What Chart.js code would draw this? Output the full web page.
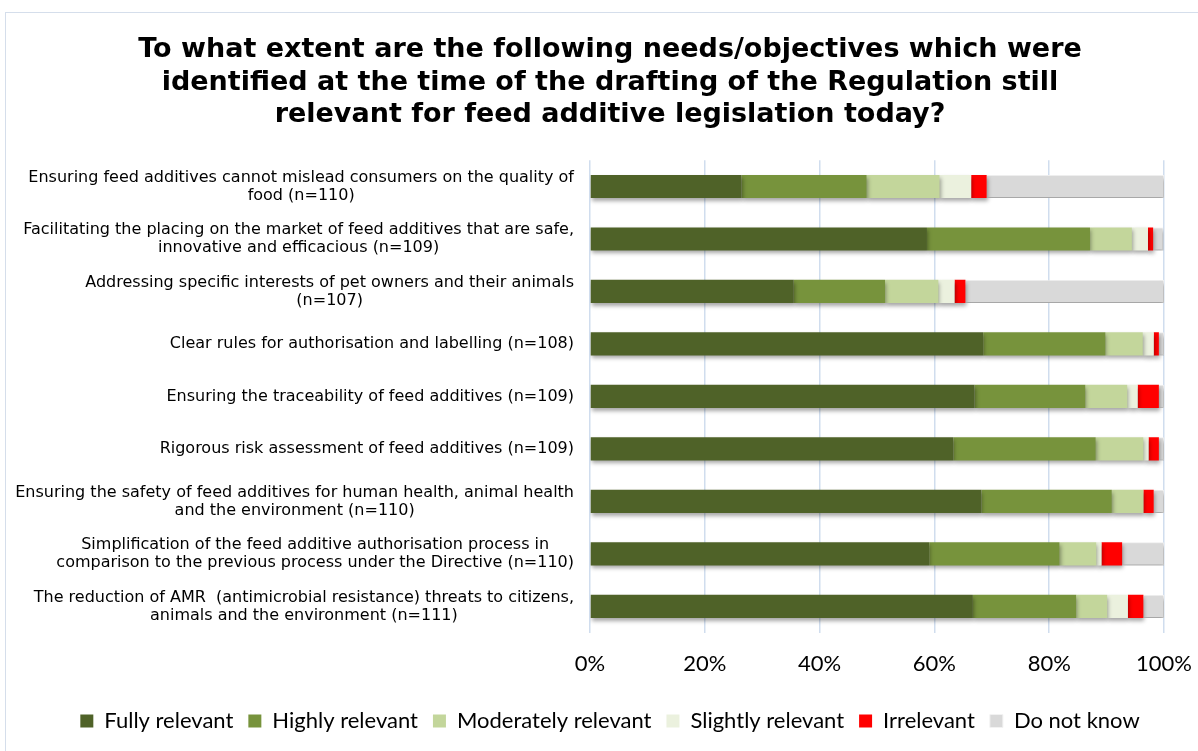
<!DOCTYPE html>
<html>
<head>
<meta charset="utf-8">
<script src="https://cdn.jsdelivr.net/npm/chart.js@4.4.1/dist/chart.umd.min.js"></script>
<style>
  html, body { margin: 0; padding: 0; background: #ffffff; overflow: hidden; }
  #wrap { position: relative; width: 1198px; height: 751px; overflow: hidden; }
  #frame { position: absolute; left: 5px; top: 12px; width: 1300px; height: 900px; border: 1px solid #D5DEEB; box-sizing: border-box; }
  canvas { position: absolute; left: 0; top: 0; }
</style>
</head>
<body>
<div id="wrap">
  <div id="frame"></div>
  <canvas id="c" width="1210" height="751"></canvas>
</div>
<script>
const titleLines = [
  "To what extent are the following needs/objectives which were",
  "identified at the time of the drafting of the Regulation still",
  "relevant for feed additive legislation today?"
];
const categories = [
  ["Ensuring feed additives cannot mislead consumers on the quality of", "food (n=110)"],
  ["Facilitating the placing on the market of feed additives that are safe,", "innovative and efficacious (n=109)"],
  ["Addressing specific interests of pet owners and their animals", "(n=107)"],
  ["Clear rules for authorisation and labelling (n=108)"],
  ["Ensuring the traceability of feed additives (n=109)"],
  ["Rigorous risk assessment of feed additives (n=109)"],
  ["Ensuring the safety of feed additives for human health, animal health", "and the environment (n=110)"],
  ["Simplification of the feed additive authorisation process in", "comparison to the previous process under the Directive (n=110)"],
  ["The reduction of AMR  (antimicrobial resistance) threats to citizens,", "animals and the environment (n=111)"]
];
const seriesNames = ["Fully relevant", "Highly relevant", "Moderately relevant", "Slightly relevant", "Irrelevant", "Do not know"];
const fullyRelevant      = [26.4, 58.7, 35.5, 68.5, 67.0, 63.3, 68.2, 59.1, 66.7];
const highlyRelevant     = [21.8, 28.4, 15.9, 21.3, 19.3, 24.8, 22.7, 22.7, 18.0];
const moderatelyRelevant = [12.7,  7.3,  9.3,  6.5,  7.3,  8.3,  5.5,  6.4,  5.4];
const slightlyRelevant   = [ 5.5,  2.8,  2.8,  1.9,  1.8,  0.9,  0.0,  0.9,  3.6];
const irrelevant         = [ 2.7,  0.9,  1.9,  0.9,  3.7,  1.8,  1.8,  3.6,  2.7];
const doNotKnow          = [30.9,  1.8, 34.6,  0.9,  0.9,  0.9,  1.8,  7.3,  3.6];
const xTicks = [0, 20, 40, 60, 80, 100];

const seriesValues = [fullyRelevant, highlyRelevant, moderatelyRelevant, slightlyRelevant, irrelevant, doNotKnow];
const seriesColors = ["#4F6228", "#77933C", "#C3D69B", "#EBF1DE", "#FF0000", "#D9D9D9"];
const seriesBorders = ["#4F6228", "#77933C", "#C3D69B", "#EBF1DE", "#FF0000", "#F2F2F2"];

const shadowPlugin = {
  id: 'barShadow',
  beforeDatasetsDraw(chart) {
    const ctx = chart.ctx;
    ctx.save();
    ctx.shadowColor = 'rgba(0,0,0,0.35)';
    ctx.shadowBlur = 4;
    ctx.shadowOffsetX = 1;
    ctx.shadowOffsetY = 3;
  },
  afterDatasetsDraw(chart) {
    chart.ctx.restore();
  }
};

const catLabelPlugin = {
  id: 'catLabels',
  afterDraw(chart) {
    const ctx = chart.ctx;
    const yScale = chart.scales.y;
    const rightEdge = chart.chartArea.left - 16;
    const lineH = 18;
    ctx.save();
    ctx.font = '16px "DejaVu Sans"';
    ctx.fillStyle = '#000000';
    ctx.textBaseline = 'middle';
    ctx.textAlign = 'center';
    categories.forEach((lines, i) => {
      const yc = yScale.getPixelForValue(i);
      const widths = lines.map(l => ctx.measureText(l).width);
      const blockW = Math.max(...widths);
      const cx = rightEdge - blockW / 2;
      const y0 = yc - (lines.length - 1) * lineH / 2;
      lines.forEach((l, k) => ctx.fillText(l, cx, y0 + k * lineH));
    });
    ctx.restore();
  }
};

const datasets = seriesNames.map((name, i) => ({
  label: name,
  data: seriesValues[i],
  backgroundColor: seriesColors[i],
  borderColor: seriesBorders[i],
  borderWidth: i === 5 ? 1 : 0,
  categoryPercentage: 1.0,
  barPercentage: 0.44
}));

new Chart(document.getElementById('c'), {
  type: 'bar',
  data: { labels: categories.map(l => l.join(' ')), datasets },
  options: {
    indexAxis: 'y',
    responsive: false,
    animation: false,
    layout: { padding: { left: 20, right: 10, top: 0, bottom: 9 } },
    plugins: {
      title: {
        display: true,
        text: titleLines,
        color: '#000000',
        font: { family: 'DejaVu Sans', size: 27, weight: 'bold', lineHeight: 1.2 },
        padding: { top: 34, bottom: 29 }
      },
      legend: {
        position: 'bottom',
        labels: {
          color: '#000000',
          font: { family: 'Lato', size: 22 },
          boxWidth: 13,
          boxHeight: 13,
          padding: 15
        }
      },
      tooltip: { enabled: false }
    },
    scales: {
      x: {
        stacked: true,
        min: 0,
        max: 100,
        afterBuildTicks(scale) { scale.ticks = xTicks.map(v => ({ value: v })); },
        ticks: {
          callback: v => v + '%',
          color: '#000000',
          font: { family: 'Lato', size: 22 },
          padding: 18,
          maxRotation: 0
        },
        grid: { color: '#D0DDEE', lineWidth: 1.5, drawTicks: false },
        border: { display: false }
      },
      y: {
        stacked: true,
        display: true,
        afterFit(scale) { scale.width = 570; },
        ticks: { display: false },
        grid: { display: false },
        border: { display: false }
      }
    }
  },
  plugins: [shadowPlugin, catLabelPlugin]
});
</script>
</body>
</html>
